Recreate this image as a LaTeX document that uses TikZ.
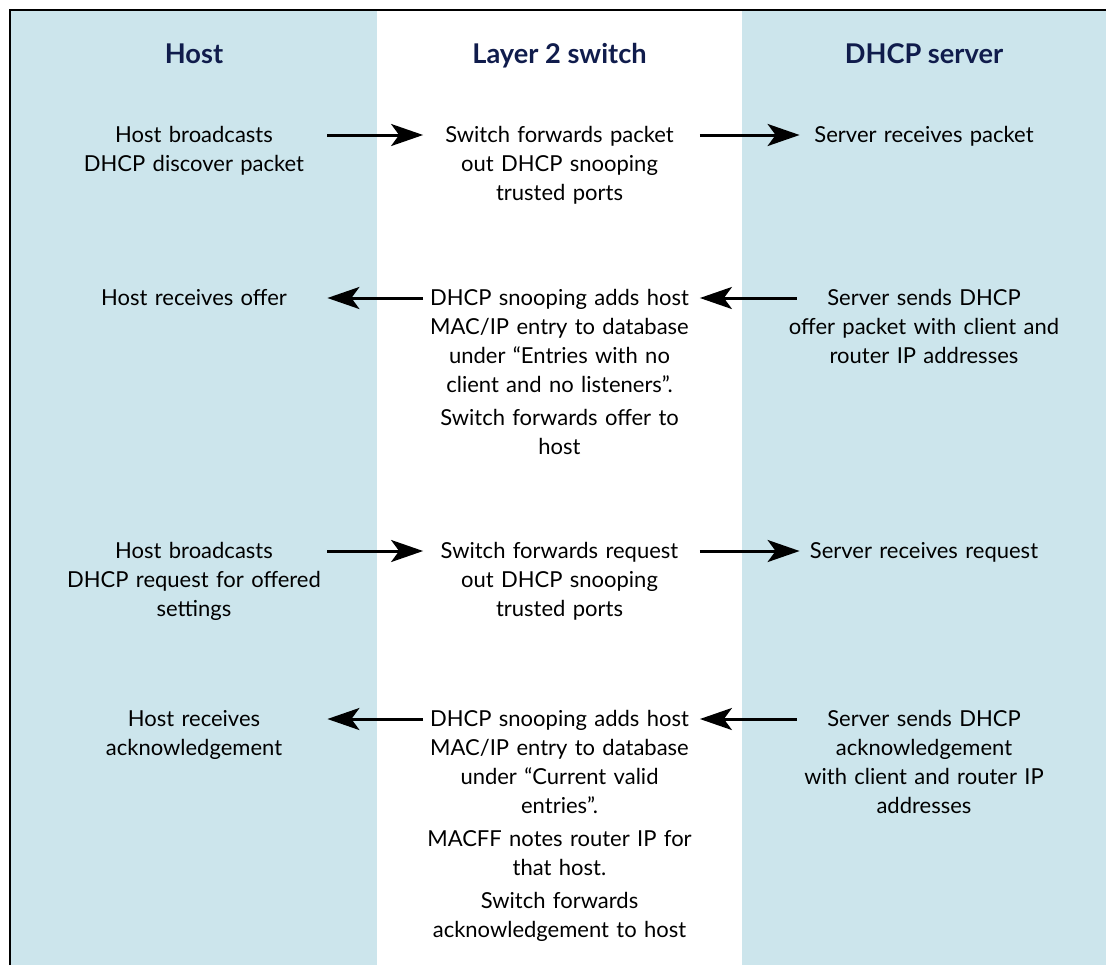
\documentclass[tikz,border=0pt]{standalone}
\usepackage{fontspec}
\setmainfont{Lato}
\usetikzlibrary{arrows.meta, positioning}

\definecolor{laneblue}{HTML}{CCE5EC}
\definecolor{headnavy}{HTML}{101C4C}

\tikzset{
    lanehead/.style={font=\fontsize{13.6}{16}\selectfont\bfseries, text=headnavy, anchor=base},
    cell/.style={font=\fontsize{11}{14.5}\selectfont, align=center, text width=136pt, inner sep=0pt, anchor=base},
    flow/.style={-{Stealth[length=16pt, width=11pt, inset=4pt]}, line width=1.5pt},
}

\begin{document}
\begin{tikzpicture}[x=0.5pt, y=-0.5pt]
        \useasboundingbox (0,0) rectangle (1106,965);
        % lanes
        \fill[laneblue] (11,11) rectangle (377,965);
        \fill[laneblue] (742,11) rectangle (1106,965);
        \draw[line width=1.3pt] (10,965) -- (10,10) -- (1106,10);
        % headings
        \node[lanehead] (hostlane)   at (194,63)   {Host};
        \node[lanehead] (switchlane) at (559.5,63) {Layer 2 switch};
        \node[lanehead] (serverlane) at (924,63)   {DHCP server};
        % discover
        \node[cell] (h1) at (194,142)   {Host broadcasts\\DHCP discover packet};
        \node[cell] (s1) at (559.5,142) {Switch forwards packet\\out DHCP snooping\\trusted ports};
        \node[cell] (d1) at (924,142)   {Server receives packet};
        % offer
        \node[cell] (h2) at (194,305)   {Host receives offer};
        \node[cell] (s2) at (559.5,305) {DHCP snooping adds host\\MAC/IP entry to database\\under “Entries with no\\client and no listeners”.\\[2pt]Switch forwards offer to\\host};
        \node[cell] (d2) at (924,305)   {Server sends DHCP\\offer packet with client and\\router IP addresses};
        % request
        \node[cell] (h3) at (194,558)   {Host broadcasts\\DHCP request for offered\\settings};
        \node[cell] (s3) at (559.5,558) {Switch forwards request\\out DHCP snooping\\trusted ports};
        \node[cell] (d3) at (924,558)   {Server receives request};
        % acknowledgement
        \node[cell] (h4) at (194,726)   {Host receives\\acknowledgement};
        \node[cell] (s4) at (559.5,726) {DHCP snooping adds host\\MAC/IP entry to database\\under “Current valid\\entries”.\\[2pt]MACFF notes router IP for\\that host.\\[2pt]Switch forwards\\acknowledgement to host};
        \node[cell] (d4) at (924,726)   {Server sends DHCP\\acknowledgement\\with client and router IP\\addresses};
        % messages
        \draw[flow, shorten <=-1.5pt] ([yshift=3.5pt]h1.base east) -- ([yshift=3.5pt]s1.base west);
        \draw[flow, shorten <=2pt, shorten >=-6pt] ([yshift=3.5pt]s1.base east) -- ([yshift=3.5pt]d1.base west);
        \draw[flow, shorten <=-4.5pt, shorten >=2pt] ([yshift=3.5pt]d2.base west) -- ([yshift=3.5pt]s2.base east);
        \draw[flow, shorten >=-1.5pt] ([yshift=3.5pt]s2.base west) -- ([yshift=3.5pt]h2.base east);
        \draw[flow, shorten <=-1.5pt] ([yshift=3.5pt]h3.base east) -- ([yshift=3.5pt]s3.base west);
        \draw[flow, shorten <=2pt, shorten >=-6pt] ([yshift=3.5pt]s3.base east) -- ([yshift=3.5pt]d3.base west);
        \draw[flow, shorten <=-4.5pt, shorten >=2pt] ([yshift=3.5pt]d4.base west) -- ([yshift=3.5pt]s4.base east);
        \draw[flow, shorten >=-1.5pt] ([yshift=3.5pt]s4.base west) -- ([yshift=3.5pt]h4.base east);
    \end{tikzpicture}
\end{document}
